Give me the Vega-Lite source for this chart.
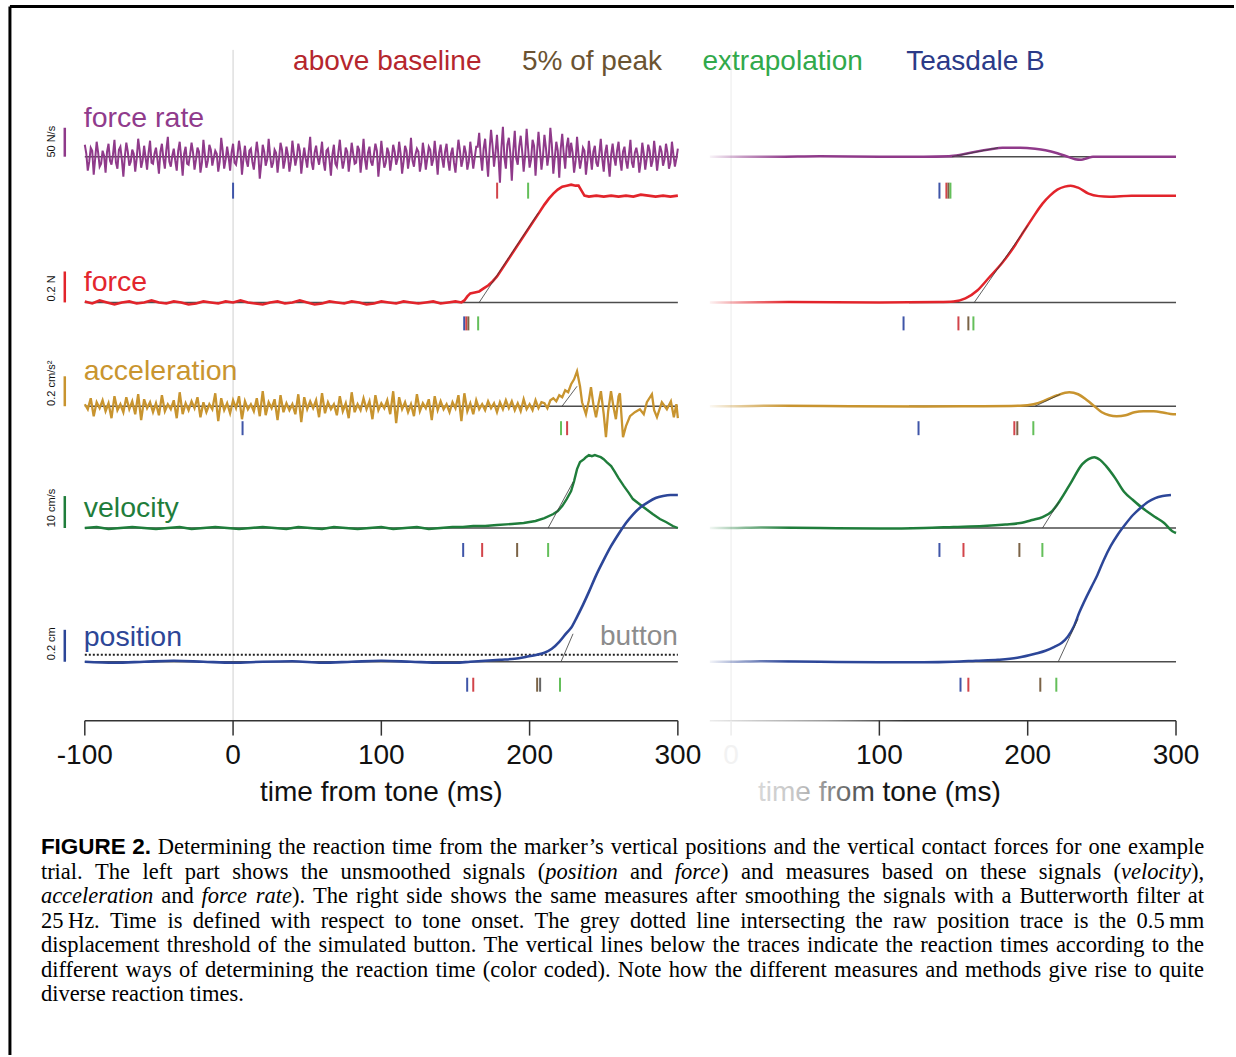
{
"$schema":"https://vega.github.io/schema/vega-lite/v6.json",
"width":1236,"height":1057,
"autosize":{"type":"fit","contains":"padding"},
"padding":0,
"background":"#ffffff",
"config":{"view":{"stroke":null},"font":"Liberation Sans"},
"datasets":{
"lfr":[{"t":-100,"y":518},{"t":-98,"y":492},{"t":-96,"y":515},{"t":-94,"y":488},{"t":-92,"y":521},{"t":-90,"y":496},{"t":-88,"y":512},{"t":-86,"y":490},{"t":-84,"y":519},{"t":-82,"y":498},{"t":-80,"y":523},{"t":-78,"y":494},{"t":-76,"y":516},{"t":-74,"y":486},{"t":-72,"y":520},{"t":-70,"y":497},{"t":-68,"y":513},{"t":-66,"y":491},{"t":-64,"y":524},{"t":-62,"y":495},
{"t":-60,"y":517},{"t":-58,"y":493},{"t":-56,"y":522},{"t":-54,"y":499},{"t":-52,"y":515},{"t":-50,"y":489},{"t":-48,"y":519},{"t":-46,"y":494},{"t":-44,"y":526},{"t":-42,"y":496},{"t":-40,"y":514},{"t":-38,"y":492},{"t":-36,"y":521},{"t":-34,"y":487},{"t":-32,"y":516},{"t":-30,"y":498},{"t":-28,"y":520},{"t":-26,"y":493},{"t":-24,"y":515},{"t":-22,"y":490},
{"t":-20,"y":523},{"t":-18,"y":495},{"t":-16,"y":518},{"t":-14,"y":497},{"t":-12,"y":512},{"t":-10,"y":491},{"t":-8,"y":525},{"t":-6,"y":494},{"t":-4,"y":516},{"t":-2,"y":492},{"t":0,"y":519},{"t":2,"y":498},{"t":4,"y":522},{"t":6,"y":488},{"t":8,"y":517},{"t":10,"y":496},{"t":12,"y":514},{"t":14,"y":493},{"t":16,"y":521},{"t":18,"y":484},
{"t":20,"y":518},{"t":22,"y":497},{"t":24,"y":524},{"t":26,"y":495},{"t":28,"y":513},{"t":30,"y":490},{"t":32,"y":520},{"t":34,"y":494},{"t":36,"y":516},{"t":38,"y":491},{"t":40,"y":522},{"t":42,"y":497},{"t":44,"y":519},{"t":46,"y":489},{"t":48,"y":515},{"t":50,"y":495},{"t":52,"y":526},{"t":54,"y":493},{"t":56,"y":517},{"t":58,"y":498},
{"t":60,"y":521},{"t":62,"y":492},{"t":64,"y":514},{"t":66,"y":487},{"t":68,"y":518},{"t":70,"y":496},{"t":72,"y":523},{"t":74,"y":494},{"t":76,"y":515},{"t":78,"y":491},{"t":80,"y":520},{"t":82,"y":499},{"t":84,"y":517},{"t":86,"y":490},{"t":88,"y":524},{"t":90,"y":493},{"t":92,"y":516},{"t":94,"y":497},{"t":96,"y":519},{"t":98,"y":486},
{"t":100,"y":522},{"t":102,"y":495},{"t":104,"y":515},{"t":106,"y":492},{"t":108,"y":518},{"t":110,"y":498},{"t":112,"y":521},{"t":114,"y":489},{"t":116,"y":517},{"t":118,"y":494},{"t":120,"y":525},{"t":122,"y":496},{"t":124,"y":514},{"t":126,"y":491},{"t":128,"y":520},{"t":130,"y":493},{"t":132,"y":516},{"t":134,"y":497},{"t":136,"y":522},{"t":138,"y":488},
{"t":140,"y":518},{"t":142,"y":495},{"t":144,"y":519},{"t":146,"y":492},{"t":148,"y":515},{"t":150,"y":490},{"t":152,"y":523},{"t":154,"y":496},{"t":156,"y":517},{"t":158,"y":493},{"t":160,"y":521},{"t":162,"y":494},{"t":164,"y":516},
{"t":166,"y":530},{"t":168,"y":492},{"t":170,"y":524},{"t":172,"y":486},{"t":174,"y":533},{"t":176,"y":496},{"t":178,"y":528},{"t":180,"y":480},{"t":182,"y":536},{"t":184,"y":494},{"t":186,"y":525},{"t":188,"y":482},{"t":190,"y":532},{"t":192,"y":498},{"t":194,"y":527},{"t":196,"y":491},{"t":198,"y":534},{"t":200,"y":495},{"t":202,"y":523},{"t":204,"y":487},{"t":206,"y":531},{"t":208,"y":493},{"t":210,"y":528},{"t":212,"y":497},{"t":214,"y":535},{"t":216,"y":489},{"t":218,"y":521},{"t":220,"y":485},{"t":222,"y":529},{"t":224,"y":494},{"t":226,"y":525},
{"t":228,"y":520},{"t":230,"y":490},{"t":232,"y":526},{"t":234,"y":494},{"t":236,"y":515},{"t":238,"y":488},{"t":240,"y":522},{"t":242,"y":493},{"t":244,"y":517},{"t":246,"y":496},{"t":248,"y":524},{"t":250,"y":491},{"t":252,"y":518},{"t":254,"y":486},{"t":256,"y":519},{"t":258,"y":497},{"t":260,"y":521},{"t":262,"y":492},{"t":264,"y":516},{"t":266,"y":494},{"t":268,"y":523},{"t":270,"y":495},{"t":272,"y":515},{"t":274,"y":490},{"t":276,"y":520},{"t":278,"y":493},{"t":280,"y":518},{"t":282,"y":496},{"t":284,"y":522},{"t":286,"y":492},{"t":288,"y":517},{"t":290,"y":497},{"t":292,"y":519},{"t":294,"y":494},{"t":296,"y":521},{"t":298,"y":496},{"t":300,"y":514},
{"t":-99,"y":509},{"t":-97,"y":501},{"t":-95,"y":512},{"t":-93,"y":504},{"t":-91,"y":510},{"t":-89,"y":499},{"t":-87,"y":507},{"t":-85,"y":511},{"t":-83,"y":502},{"t":-81,"y":508},{"t":-79,"y":500},{"t":-77,"y":513},{"t":-75,"y":503},{"t":-73,"y":506},{"t":-71,"y":511},{"t":-69,"y":501},{"t":-67,"y":509},{"t":-65,"y":504},{"t":-63,"y":512},{"t":-61,"y":502},
{"t":-59,"y":505},{"t":-57,"y":510},{"t":-55,"y":500},{"t":-53,"y":509},{"t":-51,"y":503},{"t":-49,"y":511},{"t":-47,"y":504},{"t":-45,"y":513},{"t":-43,"y":501},{"t":-41,"y":507},{"t":-39,"y":502},{"t":-37,"y":512},{"t":-35,"y":505},{"t":-33,"y":509},{"t":-31,"y":499},{"t":-29,"y":508},{"t":-27,"y":510},{"t":-25,"y":503},{"t":-23,"y":511},{"t":-21,"y":500},
{"t":-19,"y":508},{"t":-17,"y":502},{"t":-15,"y":513},{"t":-13,"y":505},{"t":-11,"y":509},{"t":-9,"y":501},{"t":-7,"y":512},{"t":-5,"y":503},{"t":-3,"y":506},{"t":-1,"y":510},{"t":1,"y":500},{"t":3,"y":508},{"t":5,"y":511},{"t":7,"y":504},{"t":9,"y":502},{"t":11,"y":512},{"t":13,"y":501},{"t":15,"y":507},{"t":17,"y":509},{"t":19,"y":499},
{"t":21,"y":511},{"t":23,"y":503},{"t":25,"y":507},{"t":27,"y":500},{"t":29,"y":510},{"t":31,"y":504},{"t":33,"y":513},{"t":35,"y":502},{"t":37,"y":508},{"t":39,"y":501},{"t":41,"y":509},{"t":43,"y":505},{"t":45,"y":512},{"t":47,"y":503},{"t":49,"y":504},{"t":51,"y":511},{"t":53,"y":500},{"t":55,"y":510},{"t":57,"y":505},{"t":59,"y":508},
{"t":61,"y":501},{"t":63,"y":512},{"t":65,"y":503},{"t":67,"y":508},{"t":69,"y":499},{"t":71,"y":510},{"t":73,"y":506},{"t":75,"y":502},{"t":77,"y":511},{"t":79,"y":504},{"t":81,"y":509},{"t":83,"y":500},{"t":85,"y":513},{"t":87,"y":505},{"t":89,"y":503},{"t":91,"y":510},{"t":93,"y":501},{"t":95,"y":508},{"t":97,"y":512},{"t":99,"y":502},
{"t":101,"y":507},{"t":103,"y":500},{"t":105,"y":510},{"t":107,"y":503},{"t":109,"y":511},{"t":111,"y":504},{"t":113,"y":509},{"t":115,"y":501},{"t":117,"y":512},{"t":119,"y":505},{"t":121,"y":502},{"t":123,"y":508},{"t":125,"y":511},{"t":127,"y":500},{"t":129,"y":509},{"t":131,"y":504},{"t":133,"y":513},{"t":135,"y":503},{"t":137,"y":506},{"t":139,"y":510},
{"t":141,"y":504},{"t":143,"y":511},{"t":145,"y":502},{"t":147,"y":509},{"t":149,"y":500},{"t":151,"y":507},{"t":153,"y":512},{"t":155,"y":503},{"t":157,"y":510},{"t":159,"y":501},{"t":161,"y":508},{"t":163,"y":505},{"t":165,"y":516},{"t":167,"y":507},{"t":169,"y":514},{"t":171,"y":504},{"t":173,"y":513},{"t":175,"y":517},{"t":177,"y":510},{"t":179,"y":506},
{"t":181,"y":515},{"t":183,"y":505},{"t":185,"y":518},{"t":187,"y":509},{"t":189,"y":512},{"t":191,"y":504},{"t":193,"y":516},{"t":195,"y":511},{"t":197,"y":507},{"t":199,"y":514},{"t":201,"y":503},{"t":203,"y":517},{"t":205,"y":510},{"t":207,"y":513},{"t":209,"y":506},{"t":211,"y":515},{"t":213,"y":508},{"t":215,"y":518},{"t":217,"y":505},{"t":219,"y":512},
{"t":221,"y":514},{"t":223,"y":509},{"t":225,"y":516},{"t":227,"y":505},{"t":229,"y":510},{"t":231,"y":501},{"t":233,"y":508},{"t":235,"y":503},{"t":237,"y":512},{"t":239,"y":502},{"t":241,"y":507},{"t":243,"y":511},{"t":245,"y":500},{"t":247,"y":509},{"t":249,"y":504},{"t":251,"y":510},{"t":253,"y":501},{"t":255,"y":508},{"t":257,"y":505},{"t":259,"y":512},
{"t":261,"y":503},{"t":263,"y":511},{"t":265,"y":502},{"t":267,"y":508},{"t":269,"y":500},{"t":271,"y":510},{"t":273,"y":507},{"t":275,"y":501},{"t":277,"y":509},{"t":279,"y":504},{"t":281,"y":512},{"t":283,"y":502},{"t":285,"y":508},{"t":287,"y":505},{"t":289,"y":511},{"t":291,"y":503},{"t":293,"y":510},{"t":295,"y":500},{"t":297,"y":508},{"t":299,"y":504}],
"lf":[{"t":-100,"y":361},{"t":-95,"y":359},{"t":-90,"y":362},{"t":-85,"y":360},{"t":-80,"y":358},{"t":-75,"y":360},{"t":-70,"y":361},{"t":-65,"y":359},{"t":-60,"y":360},{"t":-55,"y":362},{"t":-50,"y":360},{"t":-45,"y":359},{"t":-40,"y":361},{"t":-35,"y":360},{"t":-30,"y":358},{"t":-25,"y":359},{"t":-20,"y":361},{"t":-15,"y":360},{"t":-10,"y":359},{"t":-5,"y":361},{"t":0,"y":360},{"t":5,"y":362},{"t":10,"y":360},{"t":15,"y":359},{"t":20,"y":358},{"t":25,"y":360},{"t":30,"y":361},{"t":35,"y":359},{"t":40,"y":360},{"t":45,"y":362},{"t":50,"y":360},{"t":55,"y":358},{"t":60,"y":359},{"t":65,"y":361},{"t":70,"y":360},{"t":75,"y":359},{"t":80,"y":361},{"t":85,"y":360},{"t":90,"y":358},{"t":95,"y":359},{"t":100,"y":361},{"t":105,"y":360},{"t":110,"y":359},{"t":115,"y":361},{"t":120,"y":360},{"t":125,"y":359},{"t":130,"y":360},{"t":135,"y":361},{"t":140,"y":359},{"t":145,"y":360},{"t":150,"y":361},{"t":154,"y":360},{"t":156,"y":362},{"t":158,"y":366},{"t":160,"y":369},{"t":163,"y":370},{"t":166,"y":371},{"t":169,"y":374},{"t":172,"y":377},{"t":175,"y":381},{"t":178,"y":386},{"t":182,"y":395},{"t":186,"y":404},{"t":190,"y":413},{"t":194,"y":422},{"t":198,"y":431},{"t":202,"y":440},{"t":206,"y":449},{"t":210,"y":458},{"t":213,"y":464},{"t":216,"y":469},{"t":219,"y":473},{"t":222,"y":476},{"t":225,"y":477},{"t":228,"y":478},{"t":231,"y":477},{"t":233,"y":477},{"t":235,"y":472},{"t":237,"y":467},{"t":240,"y":466},{"t":245,"y":467},{"t":250,"y":466},{"t":255,"y":467},{"t":260,"y":466},{"t":265,"y":467},{"t":270,"y":466},{"t":275,"y":468},{"t":280,"y":467},{"t":285,"y":466},{"t":290,"y":467},{"t":295,"y":466},{"t":300,"y":467}],
"la":[{"t":-100,"y":258},{"t":-98,"y":253},{"t":-96,"y":264},{"t":-94,"y":246},{"t":-92,"y":260},{"t":-90,"y":254},{"t":-88,"y":262},{"t":-86,"y":251},{"t":-84,"y":259},{"t":-82,"y":244},{"t":-80,"y":266},{"t":-78,"y":252},{"t":-76,"y":258},{"t":-74,"y":250},{"t":-72,"y":265},{"t":-70,"y":253},{"t":-68,"y":261},{"t":-66,"y":248},{"t":-64,"y":268},{"t":-62,"y":242},
{"t":-60,"y":263},{"t":-58,"y":254},{"t":-56,"y":260},{"t":-54,"y":250},{"t":-52,"y":259},{"t":-50,"y":247},{"t":-48,"y":267},{"t":-46,"y":251},{"t":-44,"y":258},{"t":-42,"y":253},{"t":-40,"y":262},{"t":-38,"y":244},{"t":-36,"y":270},{"t":-34,"y":248},{"t":-32,"y":259},{"t":-30,"y":252},{"t":-28,"y":261},{"t":-26,"y":254},{"t":-24,"y":265},{"t":-22,"y":245},
{"t":-20,"y":260},{"t":-18,"y":250},{"t":-16,"y":258},{"t":-14,"y":253},{"t":-12,"y":269},{"t":-10,"y":241},{"t":-8,"y":264},{"t":-6,"y":252},{"t":-4,"y":259},{"t":-2,"y":249},{"t":0,"y":262},{"t":2,"y":254},{"t":4,"y":266},{"t":6,"y":243},{"t":8,"y":261},{"t":10,"y":253},{"t":12,"y":258},{"t":14,"y":251},{"t":16,"y":264},{"t":18,"y":246},
{"t":20,"y":271},{"t":22,"y":247},{"t":24,"y":260},{"t":26,"y":254},{"t":28,"y":263},{"t":30,"y":242},{"t":32,"y":267},{"t":34,"y":250},{"t":36,"y":259},{"t":38,"y":252},{"t":40,"y":258},{"t":42,"y":248},{"t":44,"y":268},{"t":46,"y":240},{"t":48,"y":265},{"t":50,"y":253},{"t":52,"y":261},{"t":54,"y":254},{"t":56,"y":262},{"t":58,"y":245},
{"t":60,"y":269},{"t":62,"y":249},{"t":64,"y":260},{"t":66,"y":253},{"t":68,"y":258},{"t":70,"y":247},{"t":72,"y":266},{"t":74,"y":251},{"t":76,"y":259},{"t":78,"y":244},{"t":80,"y":270},{"t":82,"y":250},{"t":84,"y":258},{"t":86,"y":252},{"t":88,"y":264},{"t":90,"y":253},{"t":92,"y":261},{"t":94,"y":243},{"t":96,"y":267},{"t":98,"y":252},
{"t":100,"y":259},{"t":102,"y":254},{"t":104,"y":262},{"t":106,"y":248},{"t":108,"y":271},{"t":110,"y":239},{"t":112,"y":265},{"t":114,"y":253},{"t":116,"y":260},{"t":118,"y":250},{"t":120,"y":258},{"t":122,"y":246},{"t":124,"y":268},{"t":126,"y":251},{"t":128,"y":259},{"t":130,"y":254},{"t":132,"y":263},{"t":134,"y":242},{"t":136,"y":266},{"t":138,"y":252},
{"t":140,"y":261},{"t":142,"y":253},{"t":144,"y":258},{"t":146,"y":250},{"t":148,"y":260},{"t":150,"y":254},{"t":152,"y":267},{"t":154,"y":241},{"t":156,"y":269},{"t":158,"y":251},{"t":160,"y":259},{"t":162,"y":248},{"t":164,"y":262},{"t":166,"y":253},{"t":168,"y":258},{"t":170,"y":252},{"t":172,"y":261},{"t":174,"y":254},{"t":176,"y":259},{"t":178,"y":250},
{"t":180,"y":260},{"t":182,"y":253},{"t":184,"y":262},{"t":186,"y":254},{"t":188,"y":261},{"t":190,"y":252},{"t":192,"y":259},{"t":194,"y":251},{"t":196,"y":263},{"t":198,"y":253},{"t":200,"y":258},{"t":202,"y":252},{"t":204,"y":262},{"t":206,"y":254},{"t":208,"y":260},
{"t":210,"y":259},{"t":212,"y":254},{"t":214,"y":262},{"t":216,"y":264},{"t":218,"y":261},{"t":220,"y":267},{"t":222,"y":265},{"t":224,"y":272},{"t":226,"y":270},{"t":228,"y":278},{"t":230,"y":283},{"t":232,"y":291},{"t":234,"y":276},{"t":235.4,"y":260},{"t":238,"y":248},{"t":240,"y":262},{"t":241.4,"y":275},{"t":243,"y":258},{"t":244.8,"y":245},{"t":246.5,"y":259},{"t":248.1,"y":271},{"t":250,"y":248},{"t":251.5,"y":225},{"t":253,"y":251},{"t":254.9,"y":271},{"t":256.5,"y":256},{"t":258.2,"y":243},{"t":260,"y":266},{"t":260.9,"y":269},{"t":262,"y":246},{"t":263,"y":225},{"t":265,"y":236},{"t":267.7,"y":246},{"t":271,"y":250},{"t":274.4,"y":253},{"t":277,"y":248},{"t":279.1,"y":260},{"t":282.5,"y":268},{"t":284,"y":252},{"t":285.9,"y":245},{"t":289.2,"y":260},{"t":292.6,"y":253},{"t":295.3,"y":261},{"t":297.3,"y":245},{"t":299,"y":258},{"t":300,"y":244}],
"lv":[{"t":-100,"y":134},{"t":-92,"y":135},{"t":-84,"y":133},{"t":-76,"y":134},{"t":-68,"y":135},{"t":-60,"y":134},{"t":-52,"y":133},{"t":-44,"y":134},{"t":-36,"y":135},{"t":-28,"y":133},{"t":-20,"y":134},{"t":-12,"y":135},{"t":-4,"y":134},{"t":4,"y":133},{"t":12,"y":134},{"t":20,"y":135},{"t":28,"y":134},{"t":36,"y":133},{"t":44,"y":135},{"t":52,"y":134},{"t":60,"y":133},{"t":68,"y":135},{"t":76,"y":134},{"t":84,"y":133},{"t":92,"y":134},{"t":100,"y":135},{"t":108,"y":133},{"t":116,"y":134},{"t":124,"y":135},{"t":132,"y":133},{"t":140,"y":134},{"t":148,"y":135},{"t":155,"y":135},{"t":162,"y":136},{"t":170,"y":136},{"t":178,"y":137},{"t":188,"y":138},{"t":196,"y":139},{"t":204,"y":141},{"t":210,"y":144},{"t":216,"y":148},{"t":219,"y":151},{"t":222,"y":156},{"t":225,"y":163},{"t":228,"y":171},{"t":230,"y":181},{"t":232,"y":193},{"t":234,"y":200},{"t":236.7,"y":203},{"t":238,"y":205},{"t":240,"y":207},{"t":242,"y":206},{"t":244,"y":207},{"t":246,"y":206},{"t":248,"y":205},{"t":250,"y":203},{"t":252,"y":200},{"t":255,"y":196},{"t":257.6,"y":190},{"t":260,"y":184},{"t":263.6,"y":176},{"t":267,"y":169},{"t":269.7,"y":163},{"t":274,"y":158},{"t":278.5,"y":153},{"t":283,"y":148},{"t":287.9,"y":143},{"t":292,"y":140},{"t":296.6,"y":136},{"t":300,"y":134}],
"lp":[{"t":-100,"y":0},{"t":-80,"y":-1},{"t":-60,"y":0},{"t":-40,"y":1},{"t":-20,"y":0},{"t":0,"y":-1},{"t":20,"y":0},{"t":40,"y":0.5},{"t":60,"y":-1},{"t":80,"y":0},{"t":100,"y":1},{"t":120,"y":0},{"t":140,"y":-1},{"t":150,"y":-1},{"t":160,"y":0},{"t":170,"y":1},{"t":180,"y":2},{"t":190,"y":3},{"t":198,"y":5},{"t":205,"y":7},{"t":210,"y":9},{"t":215,"y":13},{"t":220,"y":20},{"t":225,"y":29},{"t":228,"y":34},{"t":232,"y":45},{"t":236,"y":57},{"t":240,"y":70},{"t":245,"y":87},{"t":250,"y":102},{"t":255,"y":116},{"t":260,"y":128},{"t":265,"y":139},{"t":270,"y":148},{"t":275,"y":155},{"t":280,"y":160},{"t":285,"y":164},{"t":290,"y":166},{"t":295,"y":167},{"t":300,"y":167}],
"rfr":[{"t":-14.3,"y":506},{"t":0,"y":506},{"t":30,"y":506},{"t":60,"y":506.5},{"t":100,"y":506},{"t":130,"y":506},{"t":147,"y":506.5},{"t":155,"y":508},{"t":165,"y":511},{"t":175,"y":513.5},{"t":183,"y":515},{"t":195,"y":515},{"t":205,"y":514},{"t":212,"y":512.5},{"t":220,"y":509.5},{"t":227,"y":506},{"t":232,"y":503.5},{"t":236,"y":503},{"t":240,"y":504.5},{"t":244,"y":506},{"t":260,"y":506},{"t":280,"y":506},{"t":300,"y":506}],
"rf":[{"t":-14.3,"y":360},{"t":0,"y":360},{"t":40,"y":360.5},{"t":100,"y":360},{"t":140,"y":360.5},{"t":150,"y":361},{"t":158,"y":364},{"t":166,"y":372},{"t":174,"y":385},{"t":183,"y":400},{"t":190,"y":414},{"t":196,"y":428},{"t":203,"y":444},{"t":210,"y":459},{"t":215,"y":467},{"t":220,"y":473},{"t":225,"y":476},{"t":229,"y":477},{"t":234,"y":475},{"t":241,"y":469},{"t":248,"y":466.5},{"t":255,"y":466},{"t":270,"y":467},{"t":285,"y":467},{"t":300,"y":467}],
"ra":[{"t":-14.3,"y":256},{"t":0,"y":256},{"t":30,"y":256.5},{"t":80,"y":256},{"t":130,"y":255.8},{"t":170,"y":256},{"t":195,"y":256.5},{"t":204,"y":258},{"t":212,"y":262},{"t":220,"y":267},{"t":228,"y":270},{"t":234,"y":268},{"t":240,"y":262},{"t":245,"y":256},{"t":250,"y":250},{"t":255,"y":247},{"t":260,"y":246},{"t":266,"y":247},{"t":272,"y":250},{"t":278,"y":251},{"t":285,"y":251},{"t":292,"y":249.5},{"t":298,"y":248},{"t":300,"y":248}],
"rv":[{"t":-14.3,"y":134},{"t":0,"y":134},{"t":20,"y":134.5},{"t":60,"y":134},{"t":100,"y":133.5},{"t":130,"y":134},{"t":150,"y":135},{"t":170,"y":136},{"t":185,"y":137.5},{"t":195,"y":139},{"t":203,"y":142},{"t":210,"y":145},{"t":216.5,"y":151},{"t":222,"y":162},{"t":229.4,"y":180},{"t":236.8,"y":198},{"t":241,"y":203},{"t":244.9,"y":205},{"t":249,"y":202},{"t":252.9,"y":196},{"t":259,"y":184},{"t":265.1,"y":170},{"t":271,"y":162},{"t":276.5,"y":155},{"t":281,"y":150},{"t":285.9,"y":145},{"t":292,"y":139},{"t":297.3,"y":131},{"t":300,"y":129}],
"rp":[{"t":-14.3,"y":0},{"t":0,"y":0},{"t":20,"y":0.5},{"t":60,"y":0},{"t":100,"y":-0.5},{"t":130,"y":-0.5},{"t":150,"y":0},{"t":165,"y":1},{"t":180,"y":2},{"t":193,"y":4},{"t":205,"y":8},{"t":212,"y":11},{"t":218,"y":15},{"t":223,"y":19},{"t":227,"y":25},{"t":231,"y":35},{"t":235,"y":50},{"t":239,"y":63},{"t":243,"y":75},{"t":247,"y":87},{"t":251,"y":101},{"t":256,"y":116},{"t":261,"y":128},{"t":266,"y":138},{"t":271,"y":147},{"t":276,"y":154},{"t":281,"y":160},{"t":286,"y":164},{"t":291,"y":166},{"t":296.6,"y":167}],
"capn":[
{"t":-50.84,"y":-186,"txt":"Determining"},{"t":30.50,"y":-186,"txt":"the"},{"t":53.74,"y":-186,"txt":"reaction"},{"t":107.21,"y":-186,"txt":"time"},{"t":138.86,"y":-186,"txt":"from"},{"t":173.06,"y":-186,"txt":"the"},{"t":196.30,"y":-186,"txt":"marker’s"},{"t":254.81,"y":-186,"txt":"vertical"},{"t":304.98,"y":-186,"txt":"positions"},{"t":364.44,"y":-186,"txt":"and"},{"t":390.98,"y":-186,"txt":"the"},{"t":414.21,"y":-186,"txt":"vertical"},{"t":464.38,"y":-186,"txt":"contact"},{"t":512.86,"y":-186,"txt":"forces"},{"t":554.61,"y":-186,"txt":"for"},{"t":576.97,"y":-186,"txt":"one"},{"t":603.56,"y":-186,"txt":"example"},
{"t":-129.63,"y":-210.5,"txt":"trial."},{"t":-93.06,"y":-210.5,"txt":"The"},{"t":-61.13,"y":-210.5,"txt":"left"},{"t":-32.55,"y":-210.5,"txt":"part"},{"t":-0.62,"y":-210.5,"txt":"shows"},{"t":45.64,"y":-210.5,"txt":"the"},{"t":72.53,"y":-210.5,"txt":"unsmoothed"},{"t":154.98,"y":-210.5,"txt":"signals"},{"t":205.44,"y":-210.5,"txt":"("},{"t":267.69,"y":-210.5,"txt":"and"},{"t":329.08,"y":-210.5,"txt":")"},{"t":342.51,"y":-210.5,"txt":"and"},{"t":372.75,"y":-210.5,"txt":"measures"},{"t":437.51,"y":-210.5,"txt":"based"},{"t":480.38,"y":-210.5,"txt":"on"},{"t":503.91,"y":-210.5,"txt":"these"},{"t":543.42,"y":-210.5,"txt":"signals"},{"t":593.89,"y":-210.5,"txt":"("},{"t":646.05,"y":-210.5,"txt":"),"},
{"t":-48.50,"y":-235,"txt":"and"},{"t":39.70,"y":-235,"txt":")."},{"t":53.92,"y":-235,"txt":"The"},{"t":82.87,"y":-235,"txt":"right"},{"t":116.88,"y":-235,"txt":"side"},{"t":146.67,"y":-235,"txt":"shows"},{"t":189.95,"y":-235,"txt":"the"},{"t":213.85,"y":-235,"txt":"same"},{"t":250.37,"y":-235,"txt":"measures"},{"t":312.14,"y":-235,"txt":"after"},{"t":345.28,"y":-235,"txt":"smoothing"},{"t":414.65,"y":-235,"txt":"the"},{"t":438.56,"y":-235,"txt":"signals"},{"t":486.04,"y":-235,"txt":"with"},{"t":518.36,"y":-235,"txt":"a"},{"t":530.48,"y":-235,"txt":"Butterworth"},{"t":609.10,"y":-235,"txt":"filter"},{"t":643.94,"y":-235,"txt":"at"},
{"t":-129.63,"y":-259.5,"txt":"25\u2009Hz."},{"t":-83.07,"y":-259.5,"txt":"Time"},{"t":-44.17,"y":-259.5,"txt":"is"},{"t":-27.15,"y":-259.5,"txt":"defined"},{"t":25.22,"y":-259.5,"txt":"with"},{"t":59.08,"y":-259.5,"txt":"respect"},{"t":108.90,"y":-259.5,"txt":"to"},{"t":127.61,"y":-259.5,"txt":"tone"},{"t":160.62,"y":-259.5,"txt":"onset."},{"t":203.31,"y":-259.5,"txt":"The"},{"t":233.80,"y":-259.5,"txt":"grey"},{"t":267.64,"y":-259.5,"txt":"dotted"},{"t":312.44,"y":-259.5,"txt":"line"},{"t":342.08,"y":-259.5,"txt":"intersecting"},{"t":419.70,"y":-259.5,"txt":"the"},{"t":445.14,"y":-259.5,"txt":"raw"},{"t":474.77,"y":-259.5,"txt":"position"},{"t":530.52,"y":-259.5,"txt":"trace"},{"t":566.88,"y":-259.5,"txt":"is"},{"t":583.91,"y":-259.5,"txt":"the"},{"t":609.34,"y":-259.5,"txt":"0.5\u2009mm"},
{"t":-129.63,"y":-284,"txt":"displacement"},{"t":-44.74,"y":-284,"txt":"threshold"},{"t":16.60,"y":-284,"txt":"of"},{"t":34.16,"y":-284,"txt":"the"},{"t":57.62,"y":-284,"txt":"simulated"},{"t":121.48,"y":-284,"txt":"button."},{"t":168.94,"y":-284,"txt":"The"},{"t":197.43,"y":-284,"txt":"vertical"},{"t":247.82,"y":-284,"txt":"lines"},{"t":281.38,"y":-284,"txt":"below"},{"t":323.35,"y":-284,"txt":"the"},{"t":346.80,"y":-284,"txt":"traces"},{"t":387.08,"y":-284,"txt":"indicate"},{"t":439.99,"y":-284,"txt":"the"},{"t":463.44,"y":-284,"txt":"reaction"},{"t":517.19,"y":-284,"txt":"times"},{"t":554.96,"y":-284,"txt":"according"},{"t":619.64,"y":-284,"txt":"to"},{"t":636.37,"y":-284,"txt":"the"},
{"t":-129.63,"y":-308.5,"txt":"different"},{"t":-72.51,"y":-308.5,"txt":"ways"},{"t":-36.43,"y":-308.5,"txt":"of"},{"t":-18.86,"y":-308.5,"txt":"determining"},{"t":59.31,"y":-308.5,"txt":"the"},{"t":82.78,"y":-308.5,"txt":"reaction"},{"t":136.53,"y":-308.5,"txt":"time"},{"t":168.42,"y":-308.5,"txt":"(color"},{"t":209.55,"y":-308.5,"txt":"coded)."},{"t":259.51,"y":-308.5,"txt":"Note"},{"t":293.91,"y":-308.5,"txt":"how"},{"t":324.95,"y":-308.5,"txt":"the"},{"t":348.42,"y":-308.5,"txt":"different"},{"t":405.53,"y":-308.5,"txt":"measures"},{"t":466.86,"y":-308.5,"txt":"and"},{"t":493.69,"y":-308.5,"txt":"methods"},{"t":549.98,"y":-308.5,"txt":"give"},{"t":581.02,"y":-308.5,"txt":"rise"},{"t":607.85,"y":-308.5,"txt":"to"},{"t":624.59,"y":-308.5,"txt":"quite"},
{"t":-129.63,"y":-333,"txt":"diverse reaction times."}],
"capi":[{"t":210.48,"y":-210.5,"txt":"position"},{"t":297.95,"y":-210.5,"txt":"force"},{"t":598.93,"y":-210.5,"txt":"velocity"},{"t":-129.63,"y":-235,"txt":"acceleration"},{"t":-21.23,"y":-235,"txt":"force"},{"t":15.29,"y":-235,"txt":"rate"}]
},
"layer":[
{
"encoding":{
"x":{"field":"t","type":"quantitative","scale":{"domain":[-157.2,675.1],"nice":false,"zero":false},"axis":null},
"y":{"field":"y","type":"quantitative","scale":{"domain":[-394,663],"nice":false,"zero":false},"axis":null}
},
"layer":[
{"data":{"values":[{"t":-150.5,"y":656.5,"t2":675.1,"y2":656.5},{"t":-150.5,"y":656.5,"t2":-150.5,"y2":-394}]},"mark":{"type":"rule","color":"#000000","strokeWidth":3},"encoding":{"x2":{"field":"t2"},"y2":{"field":"y2"}}},
{"data":{"values":[{"t":0,"y":613,"y2":-59}]},"mark":{"type":"rule","color":"#cfcfcf","strokeWidth":1},"encoding":{"y2":{"field":"y2"}}},
{"data":{"values":[{"t":-100,"t2":300,"y":506},{"t":-100,"t2":300,"y":360},{"t":-100,"t2":300,"y":256},{"t":-100,"t2":300,"y":134},{"t":-100,"t2":300,"y":0}]},"mark":{"type":"rule","color":"#4d4d4d","strokeWidth":1.5},"encoding":{"x2":{"field":"t2"}}},
{"data":{"values":[{"t":-100,"t2":300,"y":7}]},"mark":{"type":"rule","color":"#222222","strokeWidth":2,"strokeDash":[2,2]},"encoding":{"x2":{"field":"t2"}}},
{"data":{"name":"lfr"},"mark":{"type":"line","color":"#8f3a8a","strokeWidth":2},"encoding":{}},
{"data":{"name":"lf"},"mark":{"type":"line","color":"#e2242b","strokeWidth":2.6},"encoding":{}},
{"data":{"name":"la"},"mark":{"type":"line","color":"#c8942f","strokeWidth":2.3},"encoding":{}},
{"data":{"name":"lv"},"mark":{"type":"line","color":"#1f7d3b","strokeWidth":2.4},"encoding":{}},
{"data":{"name":"lp"},"mark":{"type":"line","color":"#2c4698","strokeWidth":2.6,"interpolate":"monotone"},"encoding":{}},
{"data":{"values":[{"t":166,"y":360,"t2":206,"y2":450},{"t":221.9,"y":256,"t2":232,"y2":276},{"t":212.5,"y":134,"t2":229.3,"y2":180},{"t":221.2,"y":0,"t2":229.3,"y2":28}]},"mark":{"type":"rule","color":"#3a3a3a","strokeWidth":1,"opacity":0.8},"encoding":{"x2":{"field":"t2"},"y2":{"field":"y2"}}},
{"data":{"values":[{"t":0,"y":480,"y2":464,"m":"Teasdale B"},{"t":178.1,"y":480,"y2":464,"m":"above baseline"},{"t":199,"y":480,"y2":464,"m":"extrapolation"},{"t":155.9,"y":346,"y2":332,"m":"Teasdale B"},{"t":157.3,"y":346,"y2":332,"m":"above baseline"},{"t":158.7,"y":346,"y2":332,"m":"5% of peak"},{"t":165.3,"y":346,"y2":332,"m":"extrapolation"},{"t":6.4,"y":241,"y2":227,"m":"Teasdale B"},{"t":221.2,"y":241,"y2":227,"m":"extrapolation"},{"t":225.3,"y":241,"y2":227,"m":"above baseline"},{"t":155.2,"y":119,"y2":105,"m":"Teasdale B"},{"t":168,"y":119,"y2":105,"m":"above baseline"},{"t":191.6,"y":119,"y2":105,"m":"5% of peak"},{"t":212.5,"y":119,"y2":105,"m":"extrapolation"},{"t":157.9,"y":-16,"y2":-30,"m":"Teasdale B"},{"t":162,"y":-16,"y2":-30,"m":"above baseline"},{"t":205.1,"y":-16,"y2":-30,"m":"5% of peak"},{"t":207.1,"y":-16,"y2":-30,"m":"button"},{"t":220.5,"y":-16,"y2":-30,"m":"extrapolation"}]},"mark":{"type":"rule","strokeWidth":2},"encoding":{"y2":{"field":"y2"},"stroke":{"field":"m","type":"nominal","scale":{"domain":["above baseline","5% of peak","extrapolation","Teasdale B","button","force rate","force","acceleration","velocity","position"],"range":["#d2444a","#7b6346","#64bf5a","#3f55a8","#666666","#8f3a8a","#e2242b","#c8942f","#1f7d3b","#2c4698"]},"legend":null}}},
{"data":{"values":[{"t":-113.5,"y":535,"y2":506,"m":"force rate"},{"t":-113.5,"y":391,"y2":360,"m":"force"},{"t":-113.5,"y":286,"y2":256,"m":"acceleration"},{"t":-113.5,"y":166,"y2":134,"m":"velocity"},{"t":-113.5,"y":32,"y2":0,"m":"position"}]},"mark":{"type":"rule","strokeWidth":2.5},"encoding":{"y2":{"field":"y2"},"stroke":{"field":"m","type":"nominal","scale":{"domain":["above baseline","5% of peak","extrapolation","Teasdale B","button","force rate","force","acceleration","velocity","position"],"range":["#d2444a","#7b6346","#64bf5a","#3f55a8","#666666","#8f3a8a","#e2242b","#c8942f","#1f7d3b","#2c4698"]},"legend":null}}},
{"data":{"values":[{"t":-122.2,"y":521,"txt":"50 N/s"},{"t":-122.2,"y":374,"txt":"0.2 N"},{"t":-122.2,"y":279,"txt":"0.2 cm/s²"},{"t":-122.2,"y":154,"txt":"10 cm/s"},{"t":-122.2,"y":18,"txt":"0.2 cm"}]},"mark":{"type":"text","angle":270,"fontSize":11,"color":"#111111","align":"center","baseline":"middle"},"encoding":{"text":{"field":"txt"}}},
{"data":{"values":[{"t":-100.7,"y":545,"m":"force rate"},{"t":-100.7,"y":380,"m":"force"},{"t":-100.7,"y":291,"m":"acceleration"},{"t":-100.7,"y":154,"m":"velocity"},{"t":-100.7,"y":25,"m":"position"}]},"mark":{"type":"text","fontSize":28.5,"align":"left","baseline":"middle"},"encoding":{"text":{"field":"m"},"fill":{"field":"m","type":"nominal","scale":{"domain":["above baseline","5% of peak","extrapolation","Teasdale B","button","force rate","force","acceleration","velocity","position"],"range":["#b5262d","#6b5331","#31a94b","#2b3a88","#666666","#903b8c","#e3262d","#c9952f","#1f7d3b","#2d4697"]},"legend":null}}},
{"data":{"values":[{"t":104,"y":601,"m":"above baseline"},{"t":242.1,"y":601,"m":"5% of peak"},{"t":370.7,"y":601,"m":"extrapolation"},{"t":500.7,"y":601,"m":"Teasdale B"}]},"mark":{"type":"text","fontSize":28,"align":"center","baseline":"middle"},"encoding":{"text":{"field":"m"},"fill":{"field":"m","type":"nominal","scale":{"domain":["above baseline","5% of peak","extrapolation","Teasdale B","button","force rate","force","acceleration","velocity","position"],"range":["#b5262d","#6b5331","#31a94b","#2b3a88","#666666","#903b8c","#e3262d","#c9952f","#1f7d3b","#2d4697"]},"legend":null}}},
{"data":{"values":[{"t":300,"y":25,"txt":"button"}]},"mark":{"type":"text","fontSize":28,"align":"right","baseline":"middle","color":"#8c8c8c"},"encoding":{"text":{"field":"txt"}}},
{"data":{"values":[{"t":-100,"y":-59,"t2":300,"y2":-59},{"t":-100,"y":-59,"t2":-100,"y2":-74},{"t":0,"y":-59,"t2":0,"y2":-74},{"t":100,"y":-59,"t2":100,"y2":-74},{"t":200,"y":-59,"t2":200,"y2":-74},{"t":300,"y":-59,"t2":300,"y2":-74}]},"mark":{"type":"rule","color":"#333333","strokeWidth":1.5},"encoding":{"x2":{"field":"t2"},"y2":{"field":"y2"}}},
{"data":{"values":[{"t":-100,"y":-94,"txt":"-100"},{"t":0,"y":-94,"txt":"0"},{"t":100,"y":-94,"txt":"100"},{"t":200,"y":-94,"txt":"200"},{"t":300,"y":-94,"txt":"300"}]},"mark":{"type":"text","fontSize":28,"align":"center","baseline":"middle","color":"#111111"},"encoding":{"text":{"field":"txt"}}},
{"data":{"values":[{"t":100,"y":-132,"txt":"time from tone (ms)"}]},"mark":{"type":"text","fontSize":28,"align":"center","baseline":"middle","color":"#111111"},"encoding":{"text":{"field":"txt"}}},
{"data":{"values":[{"t":-129.63,"y":-186,"txt":"FIGURE 2."}]},"mark":{"type":"text","fontSize":22.5,"fontWeight":"bold","align":"left","baseline":"middle","color":"#000000"},"encoding":{"text":{"field":"txt"}}},
{"data":{"name":"capn"},"mark":{"type":"text","font":"Liberation Serif","fontSize":22.5,"align":"left","baseline":"middle","color":"#000000"},"encoding":{"text":{"field":"txt"}}},
{"data":{"name":"capi"},"mark":{"type":"text","font":"Liberation Serif","fontStyle":"italic","fontSize":22.5,"align":"left","baseline":"middle","color":"#000000"},"encoding":{"text":{"field":"txt"}}}
]
},
{
"encoding":{
"x":{"field":"t","type":"quantitative","scale":{"domain":[-492.9,339.1],"nice":false,"zero":false},"axis":null},
"y":{"field":"y","type":"quantitative","scale":{"domain":[-394,663],"nice":false,"zero":false},"axis":null}
},
"layer":[
{"data":{"values":[{"t":0,"y":613,"y2":-59}]},"mark":{"type":"rule","color":"#ececec","strokeWidth":1},"encoding":{"y2":{"field":"y2"}}},
{"data":{"values":[{"t":120,"t2":300,"y":506},{"t":120,"t2":300,"y":360},{"t":120,"t2":300,"y":256},{"t":120,"t2":300,"y":134},{"t":120,"t2":300,"y":0}]},"mark":{"type":"rule","color":"#4d4d4d","strokeWidth":1.5},"encoding":{"x2":{"field":"t2"}}},
{"data":{"name":"rfr"},"mark":{"type":"line","interpolate":"monotone","strokeWidth":2.5,"stroke":{"gradient":"linear","x1":0,"y1":0,"x2":1,"y2":0,"stops":[{"offset":0,"color":"rgba(143,58,138,0.06)"},{"offset":0.07,"color":"rgba(143,58,138,0.5)"},{"offset":0.17,"color":"rgba(143,58,138,1)"},{"offset":1,"color":"rgba(143,58,138,1)"}]}},"encoding":{}},
{"data":{"name":"rf"},"mark":{"type":"line","interpolate":"monotone","strokeWidth":2.5,"stroke":{"gradient":"linear","x1":0,"y1":0,"x2":1,"y2":0,"stops":[{"offset":0,"color":"rgba(226,36,43,0.06)"},{"offset":0.07,"color":"rgba(226,36,43,0.5)"},{"offset":0.17,"color":"rgba(226,36,43,1)"},{"offset":1,"color":"rgba(226,36,43,1)"}]}},"encoding":{}},
{"data":{"name":"ra"},"mark":{"type":"line","interpolate":"monotone","strokeWidth":2.5,"stroke":{"gradient":"linear","x1":0,"y1":0,"x2":1,"y2":0,"stops":[{"offset":0,"color":"rgba(200,148,47,0.06)"},{"offset":0.07,"color":"rgba(200,148,47,0.5)"},{"offset":0.17,"color":"rgba(200,148,47,1)"},{"offset":1,"color":"rgba(200,148,47,1)"}]}},"encoding":{}},
{"data":{"name":"rv"},"mark":{"type":"line","interpolate":"monotone","strokeWidth":2.5,"stroke":{"gradient":"linear","x1":0,"y1":0,"x2":1,"y2":0,"stops":[{"offset":0,"color":"rgba(31,125,59,0.06)"},{"offset":0.07,"color":"rgba(31,125,59,0.5)"},{"offset":0.17,"color":"rgba(31,125,59,1)"},{"offset":1,"color":"rgba(31,125,59,1)"}]}},"encoding":{}},
{"data":{"name":"rp"},"mark":{"type":"line","interpolate":"monotone","strokeWidth":2.5,"stroke":{"gradient":"linear","x1":0,"y1":0,"x2":1,"y2":0,"stops":[{"offset":0,"color":"rgba(44,70,152,0.06)"},{"offset":0.07,"color":"rgba(44,70,152,0.5)"},{"offset":0.17,"color":"rgba(44,70,152,1)"},{"offset":1,"color":"rgba(44,70,152,1)"}]}},"encoding":{}},
{"data":{"values":[{"t":149,"y":506,"t2":180,"y2":515},{"t":164,"y":360,"t2":200,"y2":437},{"t":205,"y":256,"t2":222,"y2":268},{"t":210,"y":134,"t2":221,"y2":160},{"t":220.6,"y":0,"t2":234,"y2":43}]},"mark":{"type":"rule","color":"#3a3a3a","strokeWidth":1,"opacity":0.8},"encoding":{"x2":{"field":"t2"},"y2":{"field":"y2"}}},
{"data":{"values":[{"t":140.5,"y":480,"y2":464,"m":"Teasdale B"},{"t":145.2,"y":480,"y2":464,"m":"above baseline"},{"t":146.6,"y":480,"y2":464,"m":"5% of peak"},{"t":147.9,"y":480,"y2":464,"m":"extrapolation"},{"t":116.3,"y":346,"y2":332,"m":"Teasdale B"},{"t":153.3,"y":346,"y2":332,"m":"above baseline"},{"t":160,"y":346,"y2":332,"m":"5% of peak"},{"t":163.4,"y":346,"y2":332,"m":"extrapolation"},{"t":126.4,"y":241,"y2":227,"m":"Teasdale B"},{"t":191,"y":241,"y2":227,"m":"above baseline"},{"t":193,"y":241,"y2":227,"m":"5% of peak"},{"t":203.8,"y":241,"y2":227,"m":"extrapolation"},{"t":140.5,"y":119,"y2":105,"m":"Teasdale B"},{"t":156.7,"y":119,"y2":105,"m":"above baseline"},{"t":194.4,"y":119,"y2":105,"m":"5% of peak"},{"t":209.9,"y":119,"y2":105,"m":"extrapolation"},{"t":154.7,"y":-16,"y2":-30,"m":"Teasdale B"},{"t":160,"y":-16,"y2":-30,"m":"above baseline"},{"t":208.5,"y":-16,"y2":-30,"m":"5% of peak"},{"t":219.3,"y":-16,"y2":-30,"m":"extrapolation"}]},"mark":{"type":"rule","strokeWidth":2},"encoding":{"y2":{"field":"y2"},"stroke":{"field":"m","type":"nominal","scale":{"domain":["above baseline","5% of peak","extrapolation","Teasdale B","button","force rate","force","acceleration","velocity","position"],"range":["#d2444a","#7b6346","#64bf5a","#3f55a8","#666666","#8f3a8a","#e2242b","#c8942f","#1f7d3b","#2c4698"]},"legend":null}}},
{"data":{"values":[{"t":-14.3,"t2":300,"y":-58.3,"y2":-59.8}]},"mark":{"type":"rect","fill":{"gradient":"linear","x1":0,"y1":0,"x2":1,"y2":0,"stops":[{"offset":0,"color":"#ececec"},{"offset":0.25,"color":"#999999"},{"offset":0.42,"color":"#333333"},{"offset":1,"color":"#333333"}]}},"encoding":{"x2":{"field":"t2"},"y2":{"field":"y2"}}},
{"data":{"values":[{"t":0,"y":-59,"y2":-74}]},"mark":{"type":"rule","color":"#ececec","strokeWidth":1.5},"encoding":{"y2":{"field":"y2"}}},
{"data":{"values":[{"t":100,"y":-59,"y2":-74},{"t":200,"y":-59,"y2":-74},{"t":300,"y":-59,"y2":-74}]},"mark":{"type":"rule","color":"#333333","strokeWidth":1.5},"encoding":{"y2":{"field":"y2"}}},
{"data":{"values":[{"t":100,"y":-94,"txt":"100"},{"t":200,"y":-94,"txt":"200"},{"t":300,"y":-94,"txt":"300"}]},"mark":{"type":"text","fontSize":28,"align":"center","baseline":"middle","color":"#111111"},"encoding":{"text":{"field":"txt"}}},
{"data":{"values":[{"t":0,"y":-94,"txt":"0"}]},"mark":{"type":"text","fontSize":28,"align":"center","baseline":"middle","color":"#f2f2f2"},"encoding":{"text":{"field":"txt"}}},
{"data":{"values":[{"t":100,"y":-132,"txt":"time from tone (ms)"}]},"mark":{"type":"text","fontSize":28,"align":"center","baseline":"middle","fill":{"gradient":"linear","x1":0,"y1":0,"x2":1,"y2":0,"stops":[{"offset":0,"color":"#d8d8d8"},{"offset":0.17,"color":"#c4c4c4"},{"offset":0.3,"color":"#8a8a8a"},{"offset":0.44,"color":"#4a4a4a"},{"offset":0.52,"color":"#161616"},{"offset":1,"color":"#111111"}]}},"encoding":{"text":{"field":"txt"}}}
]
}
],
"resolve":{"scale":{"x":"independent","y":"independent"}}
}
